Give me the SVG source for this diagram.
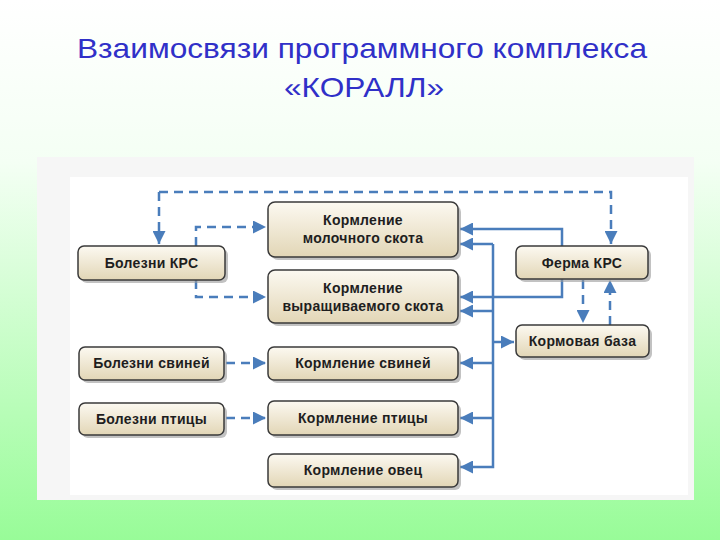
<svg xmlns="http://www.w3.org/2000/svg" width="720" height="540" viewBox="0 0 720 540">
<defs>
<linearGradient id="bg" x1="0" y1="0" x2="0" y2="1">
<stop offset="0" stop-color="#ffffff"/>
<stop offset="0.3" stop-color="#f4fff4"/>
<stop offset="1" stop-color="#98fc98"/>
</linearGradient>
<linearGradient id="boxg" x1="0" y1="0" x2="0" y2="1">
<stop offset="0" stop-color="#fcf9f1"/>
<stop offset="1" stop-color="#e2d6b6"/>
</linearGradient>
<marker id="ar" viewBox="0 0 10 10" refX="10" refY="5" markerWidth="13" markerHeight="13" markerUnits="userSpaceOnUse" orient="auto">
<path d="M0,0 L10,5 L0,10 z" fill="#4a7dbb"/>
</marker>
<style>
.box{fill:url(#boxg);stroke:#3a3a3a;stroke-width:1.5}
.sh{fill:#9a9a9a;opacity:0.6}
.t{font-family:"Liberation Sans",Arial,sans-serif;font-size:14px;font-weight:bold;fill:#1e1e1e;text-anchor:middle;letter-spacing:0.3px}
.ttl{font-family:"Liberation Sans",Arial,sans-serif;font-size:28px;fill:#3030c8;text-anchor:middle}
.c{fill:none;stroke:#4a7dbb;stroke-width:2.5}
.d{stroke-dasharray:9,6}
</style>
</defs>
<rect x="0" y="0" width="720" height="540" fill="url(#bg)"/>
<text class="ttl" x="362" y="58" textLength="570" lengthAdjust="spacingAndGlyphs">Взаимосвязи программного комплекса</text>
<text class="ttl" x="364" y="97" textLength="160" lengthAdjust="spacingAndGlyphs">«КОРАЛЛ»</text>
<rect x="37" y="157" width="657" height="343" fill="#f6f6f6"/>
<rect x="70" y="177" width="618" height="318" fill="#ffffff"/>
<g id="connectors">
<path class="c d" d="M159,192 H611 V244" marker-end="url(#ar)"/>
<path class="c d" d="M159,192 V244" marker-end="url(#ar)"/>
<path class="c d" d="M196,246 V227 H266" marker-end="url(#ar)"/>
<path class="c d" d="M196,280 V297 H266" marker-end="url(#ar)"/>
<path class="c d" d="M226,363 H266" marker-end="url(#ar)"/>
<path class="c d" d="M226,418 H266" marker-end="url(#ar)"/>
<path class="c" d="M562,246 V229 H460" marker-end="url(#ar)"/>
<path class="c" d="M562,278 V297 H460" marker-end="url(#ar)"/>
<path class="c" d="M493,244 H460" marker-end="url(#ar)"/>
<path class="c" d="M493,244 V467 H460" marker-end="url(#ar)"/>
<path class="c" d="M493,311 H460" marker-end="url(#ar)"/>
<path class="c" d="M493,363 H460" marker-end="url(#ar)"/>
<path class="c" d="M493,418 H460" marker-end="url(#ar)"/>
<path class="c" d="M493,342 H514" marker-end="url(#ar)"/>
<path class="c d" d="M583,280 V323" marker-end="url(#ar)"/>
<path class="c d" d="M610,325 V280" marker-end="url(#ar)"/>
</g>
<g id="n-bolezni-krs">
<rect class="sh" x="81" y="249" width="147" height="34" rx="6"/>
<rect class="box" x="78" y="246" width="147" height="34" rx="6"/>
<text class="t" x="151.5" y="268">Болезни КРС</text>
</g>
<g id="n-korm-moloch">
<rect class="sh" x="271" y="205" width="190" height="55" rx="7"/>
<rect class="box" x="268" y="202" width="190" height="55" rx="7"/>
<text class="t" x="363" y="225">Кормление</text>
<text class="t" x="363" y="243">молочного скота</text>
</g>
<g id="n-korm-vyrasch">
<rect class="sh" x="271" y="273" width="190" height="53" rx="7"/>
<rect class="box" x="268" y="270" width="190" height="53" rx="7"/>
<text class="t" x="363" y="293">Кормление</text>
<text class="t" x="363" y="311">выращиваемого скота</text>
</g>
<g id="n-ferma-krs">
<rect class="sh" x="519" y="249" width="132" height="33" rx="6"/>
<rect class="box" x="516" y="246" width="132" height="33" rx="6"/>
<text class="t" x="582" y="268">Ферма КРС</text>
</g>
<g id="n-kormovaya-baza">
<rect class="sh" x="519" y="328" width="133" height="32" rx="6"/>
<rect class="box" x="516" y="325" width="133" height="32" rx="6"/>
<text class="t" x="582.5" y="346">Кормовая база</text>
</g>
<g id="n-bolezni-sviney">
<rect class="sh" x="82" y="350" width="145" height="33" rx="6"/>
<rect class="box" x="79" y="347" width="145" height="33" rx="6"/>
<text class="t" x="151.5" y="368">Болезни свиней</text>
</g>
<g id="n-korm-sviney">
<rect class="sh" x="271" y="350" width="190" height="33" rx="6"/>
<rect class="box" x="268" y="347" width="190" height="33" rx="6"/>
<text class="t" x="363" y="368">Кормление свиней</text>
</g>
<g id="n-bolezni-ptitsy">
<rect class="sh" x="82" y="406" width="145" height="32" rx="6"/>
<rect class="box" x="79" y="403" width="145" height="32" rx="6"/>
<text class="t" x="151.5" y="424">Болезни птицы</text>
</g>
<g id="n-korm-ptitsy">
<rect class="sh" x="271" y="404" width="190" height="34" rx="6"/>
<rect class="box" x="268" y="401" width="190" height="34" rx="6"/>
<text class="t" x="363" y="423">Кормление птицы</text>
</g>
<g id="n-korm-ovets">
<rect class="sh" x="271" y="457" width="190" height="33" rx="6"/>
<rect class="box" x="268" y="454" width="190" height="33" rx="6"/>
<text class="t" x="363" y="475">Кормление овец</text>
</g>
</svg>
